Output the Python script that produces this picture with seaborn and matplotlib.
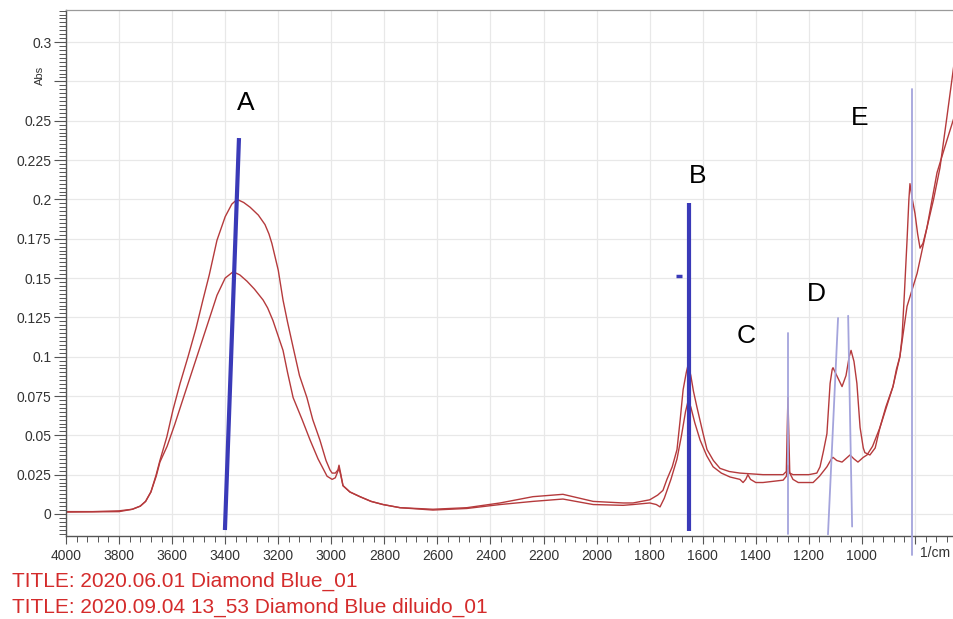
import numpy as np
import pandas as pd
import matplotlib
matplotlib.use("Agg")
import matplotlib.pyplot as plt
import seaborn as sns
from matplotlib.ticker import FixedLocator

# spectrum 1 (Diamond Blue_01)
wn_1 = [4000, 3900, 3800, 3750, 3720, 3700, 3680, 3660, 3646, 3620, 3597, 3570, 3540, 3510,
        3484, 3460, 3431, 3400, 3375, 3355, 3330, 3306, 3275, 3250, 3235, 3224, 3200, 3182,
        3165, 3144, 3120, 3092, 3070, 3043, 3020, 3005, 2997, 2985, 2975, 2971, 2965, 2956,
        2930, 2892, 2850, 2805, 2741, 2617, 2489, 2364, 2240, 2127, 2013, 1900, 1863, 1800,
        1770, 1750, 1735, 1715, 1697, 1685, 1674, 1662, 1655, 1645, 1635, 1622, 1600, 1584,
        1560, 1535, 1500, 1460, 1373, 1297, 1285, 1279, 1272, 1260, 1200, 1170, 1158, 1145,
        1132, 1120, 1112, 1109, 1095, 1075, 1060, 1048, 1041, 1030, 1019, 1007, 995, 989,
        970, 950, 932, 910, 883, 870, 857, 849, 840, 830, 823, 819, 810, 800, 790, 781,
        770, 755, 730, 706, 680, 653]
abs_1 = [0.0015, 0.0015, 0.002, 0.003, 0.005, 0.008, 0.014, 0.025, 0.034, 0.049, 0.066, 0.083,
         0.100, 0.118, 0.136, 0.152, 0.174, 0.189, 0.197, 0.200, 0.198, 0.195, 0.190, 0.184,
         0.178, 0.172, 0.155, 0.136, 0.122, 0.106, 0.088, 0.074, 0.060, 0.047, 0.034, 0.028,
         0.026, 0.026, 0.028, 0.031, 0.026, 0.018, 0.014, 0.011, 0.008, 0.006, 0.004, 0.003,
         0.004, 0.007, 0.011, 0.0125, 0.008, 0.007, 0.007, 0.009, 0.012, 0.015, 0.022, 0.030,
         0.041, 0.060, 0.079, 0.090, 0.095, 0.088, 0.078, 0.068, 0.052, 0.041, 0.034, 0.029,
         0.027, 0.026, 0.025, 0.025, 0.027, 0.074, 0.026, 0.025, 0.025, 0.026, 0.030, 0.040,
         0.051, 0.083, 0.092, 0.093, 0.088, 0.081, 0.088, 0.100, 0.104, 0.097, 0.083, 0.055,
         0.042, 0.039, 0.0375, 0.042, 0.055, 0.068, 0.081, 0.092, 0.100, 0.112, 0.140, 0.174,
         0.200, 0.210, 0.200, 0.191, 0.178, 0.169, 0.172, 0.182, 0.200, 0.220, 0.252, 0.286]

# spectrum 2 (Diamond Blue diluido_01)
wn_2 = [4000, 3800, 3750, 3720, 3700, 3680, 3660, 3646, 3619, 3590, 3563, 3530, 3495, 3460,
        3431, 3400, 3370, 3345, 3318, 3290, 3257, 3240, 3220, 3200, 3182, 3165, 3144, 3110,
        3080, 3050, 3016, 2997, 2985, 2971, 2965, 2956, 2930, 2892, 2850, 2805, 2741, 2617,
        2489, 2364, 2240, 2127, 2013, 1900, 1863, 1800, 1775, 1761, 1745, 1720, 1697, 1680,
        1665, 1655, 1645, 1630, 1610, 1585, 1561, 1530, 1497, 1460, 1448, 1438, 1430, 1420,
        1400, 1373, 1297, 1285, 1279, 1272, 1260, 1240, 1222, 1184, 1160, 1132, 1115, 1109,
        1095, 1075, 1055, 1045, 1030, 1015, 995, 981, 960, 932, 883, 857, 830, 792, 755,
        717, 679, 653]
abs_2 = [0.0012, 0.0015, 0.003, 0.005, 0.008, 0.014, 0.024, 0.033, 0.043, 0.057, 0.071, 0.088,
         0.106, 0.124, 0.139, 0.150, 0.154, 0.152, 0.148, 0.143, 0.136, 0.131, 0.123, 0.113,
         0.104, 0.090, 0.074, 0.060, 0.047, 0.035, 0.024, 0.022, 0.023, 0.029, 0.025, 0.018,
         0.014, 0.011, 0.008, 0.006, 0.004, 0.0025, 0.0035, 0.006, 0.008, 0.0095, 0.006,
         0.0055, 0.006, 0.007, 0.006, 0.0045, 0.010, 0.022, 0.035, 0.050, 0.065, 0.072, 0.068,
         0.058, 0.047, 0.037, 0.030, 0.026, 0.0235, 0.022, 0.020, 0.022, 0.025, 0.022, 0.020,
         0.020, 0.0215, 0.024, 0.031, 0.026, 0.022, 0.020, 0.020, 0.020, 0.024, 0.030, 0.035,
         0.036, 0.034, 0.033, 0.036, 0.0375, 0.035, 0.033, 0.036, 0.0375, 0.043, 0.055, 0.081,
         0.100, 0.132, 0.153, 0.182, 0.217, 0.238, 0.252]

# peak marker lines: start / end points
mark_x0 = [3401, 1652, 1279, 1128, 1037, 811]
mark_y0 = [-0.0102, -0.011, -0.013, -0.013, -0.008, -0.026]
mark_x1 = [3348, 1652, 1279, 1090, 1052, 811]
mark_y1 = [0.239, 0.198, 0.115, 0.1246, 0.126, 0.27]
mark_thick = [True, True, False, False, False, False]

# small dash next to B
dot_x = [1689]
dot_y = [0.151]

peak_labels = ["A", "B", "C", "D", "E"]
peak_label_x = [3322, 1618, 1437, 1173, 1007]
peak_label_y = [0.261, 0.215, 0.113, 0.140, 0.252]

x_ticks = [4000, 3800, 3600, 3400, 3200, 3000, 2800, 2600, 2400, 2200, 2000, 1800, 1600,
           1400, 1200, 1000, 800]
x_tick_labels = ["4000", "3800", "3600", "3400", "3200", "3000", "2800", "2600", "2400",
                 "2200", "2000", "1800", "1600", "1400", "1200", "1000", ""]
y_ticks = [0, 0.025, 0.05, 0.075, 0.1, 0.125, 0.15, 0.175, 0.2, 0.225, 0.25, 0.275, 0.3]
y_tick_labels = ["0", "0.025", "0.05", "0.075", "0.1", "0.125", "0.15", "0.175", "0.2",
                 "0.225", "0.25", "", "0.3"]

titles = ["TITLE: 2020.06.01 Diamond Blue_01",
          "TITLE: 2020.09.04 13_53 Diamond Blue diluido_01"]

sns.set_theme(style="white")
plt.rcParams["font.family"] = ["Liberation Sans", "DejaVu Sans"]

W, H = 954, 619
fig = plt.figure(figsize=(W / 100, H / 100), dpi=100)
ax = fig.add_axes([66 / W, 1 - 536 / H, 1 - 66 / W, (536 - 10) / H])

spec_red = "#b53a3c"
df1 = pd.DataFrame({"wn": wn_1, "abs": abs_1})
df2 = pd.DataFrame({"wn": wn_2, "abs": abs_2})
sns.lineplot(data=df1, x="wn", y="abs", sort=False, estimator=None, color=spec_red, lw=1.0, ax=ax)
sns.lineplot(data=df2, x="wn", y="abs", sort=False, estimator=None, color=spec_red, lw=1.0, ax=ax)

for x0, y0, x1, y1, thick in zip(mark_x0, mark_y0, mark_x1, mark_y1, mark_thick):
    if thick:
        ax.plot([x0, x1], [y0, y1], color="#3a3ab8", lw=3.0, solid_capstyle="butt", zorder=4)
    else:
        ax.plot([x0, x1], [y0, y1], color="#a4a4dc", lw=1.3, clip_on=False, zorder=4)
ax.plot(dot_x, dot_y, marker="_", ms=5, mew=2.5, color="#3a3ab8", ls="none", zorder=4)

for t, x, y in zip(peak_labels, peak_label_x, peak_label_y):
    ax.text(x, y, t, fontsize=19, ha="center", va="center", color="black")

ax.set_xlim(4000, 653)
ax.set_ylim(-0.014, 0.3204)
ax.set_xlabel("")
ax.set_ylabel("")

ax.xaxis.set_major_locator(FixedLocator(x_ticks))
ax.set_xticklabels(x_tick_labels)
ax.xaxis.set_minor_locator(FixedLocator(np.arange(4000, 640, -40)))
ax.yaxis.set_major_locator(FixedLocator(y_ticks))
ax.set_yticklabels(y_tick_labels)
ax.yaxis.set_minor_locator(FixedLocator(np.arange(-0.0125, 0.3201, 0.0025)))

ax.grid(True, which="major", color="#e8e8e8", lw=0.9)
ax.set_axisbelow(True)
ax.tick_params(which="both", bottom=True, left=True, direction="out", colors="#555555",
               labelcolor="#333333", labelsize=10)
ax.tick_params(axis="y", which="major", length=9, width=0.8, pad=1.5)
ax.tick_params(axis="y", which="minor", length=5, width=0.7)
ax.tick_params(axis="x", which="major", length=6, width=0.8, pad=3.5)
ax.tick_params(axis="x", which="minor", length=4, width=0.7)

for side in ["left", "bottom"]:
    ax.spines[side].set_color("#555555")
    ax.spines[side].set_linewidth(1.0)
ax.spines["top"].set_color("#9a9a9a")
ax.spines["top"].set_linewidth(0.9)
ax.spines["right"].set_visible(False)

fig.text(935 / W, 1 - 553 / H, "1/cm", fontsize=10, color="#333333", ha="center", va="center")
fig.text(40 / W, 1 - 75 / H, "Abs", fontsize=8, color="#333333", rotation=90,
         ha="center", va="center")
fig.text(12 / W, 1 - 581 / H, titles[0], fontsize=15, color="#d42b2b", ha="left", va="center")
fig.text(12 / W, 1 - 607 / H, titles[1], fontsize=15, color="#d42b2b", ha="left", va="center")

fig.savefig("out.png", dpi=100)
